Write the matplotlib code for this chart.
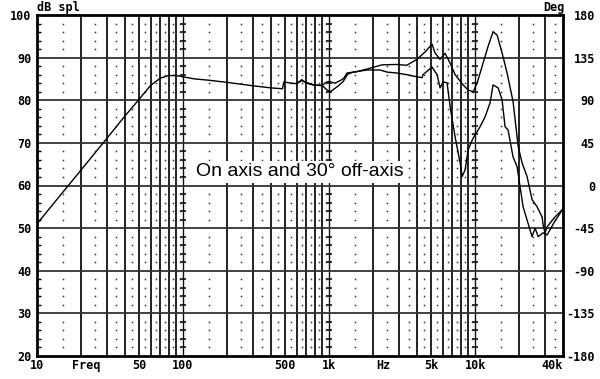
import numpy as np
import matplotlib.pyplot as plt
from matplotlib.ticker import NullLocator, FixedLocator, MultipleLocator

# shared low/mid part (Hz, dB)
f_low = [10, 15, 20, 30, 40, 50, 60, 70, 80, 90, 100, 120, 150, 200, 300,
         400, 480, 490, 550, 600]
db_low = [51.0, 58.4, 63.6, 71.0, 76.3, 80.2, 83.5, 85.2, 85.8, 85.8, 85.5,
          85.0, 84.7, 84.2, 83.4, 82.9, 82.7, 84.3, 84.0, 83.9]

# on axis
f_on = [650, 700, 780, 900, 950, 1000, 1100, 1250, 1330, 1550, 1900, 2300,
        2900, 3400, 4000, 4600, 5070, 5320, 5750, 6230, 6750, 7300, 8280,
        8960, 9690, 10320, 11340, 12270, 13280, 14150, 15310, 16560, 18200,
        19720, 20990, 22700, 24550, 26600, 28780, 29240, 30150, 31130, 35000,
        40000]
db_on = [84.6, 84.2, 83.6, 83.5, 84.2, 84.4, 84.0, 85.0, 86.4, 86.7, 87.5,
         88.3, 88.4, 88.2, 89.6, 91.5, 93.2, 91.1, 89.6, 91.0, 88.7, 86.0,
         83.6, 82.4, 82.0, 84.0, 88.7, 92.6, 96.1, 95.3, 91.1, 86.4, 79.7,
         69.2, 65.3, 62.1, 56.7, 55.0, 52.6, 50.7, 48.9, 50.3, 52.5, 54.5]

# 30 deg off axis
f_off = [650, 700, 780, 900, 970, 1020, 1150, 1250, 1340, 1460, 1820, 2234,
         2500, 2900, 3400, 4000, 4340, 4400, 5070, 5490, 5760, 6030, 6430,
         6750, 7300, 7900, 8150, 8550, 8960, 9690, 10820, 11700, 12670, 13280,
         14380, 15310, 16040, 16830, 18200, 19400, 20330, 21330, 22700, 24550,
         25760, 27040, 29240, 31130, 35000, 40000]
db_off = [84.8, 84.0, 83.6, 83.4, 82.4, 82.0, 83.3, 84.4, 86.1, 86.6, 87.1,
          87.1, 86.6, 86.4, 86.0, 85.5, 85.3, 86.0, 87.8, 86.0, 82.9, 84.3,
          84.1, 78.4, 71.4, 65.3, 62.1, 63.7, 68.4, 71.1, 73.8, 76.1, 79.4,
          83.6, 82.9, 80.1, 73.8, 73.0, 66.7, 64.4, 59.7, 55.0, 51.9, 48.0,
          50.0, 48.0, 48.9, 48.4, 51.5, 54.5]

x_ticks = [10, 21.6, 50, 100, 500, 1000, 2350, 5000, 10000, 40000]
x_labels = ['10', 'Freq', '50', '100', '500', '1k', 'Hz', '5k', '10k', '40k']
db_ticks = [20, 30, 40, 50, 60, 70, 80, 90, 100]
deg_ticks = [-180, -135, -90, -45, 0, 45, 90, 135, 180]

solid_x = [20, 30, 40, 50, 60, 70, 80, 90, 200, 300, 400, 500, 600, 700, 800,
           900, 2000, 3000, 4000, 5000, 6000, 7000, 8000, 9000, 20000, 30000]
decade_x = [100, 1000, 10000]
dot_x = [15, 25, 35, 45, 55, 65, 75, 85, 95, 150, 250, 350, 450, 550, 650,
         750, 850, 950, 1500, 2500, 3500, 4500, 5500, 6500, 7500, 8500, 9500,
         15000, 25000, 35000]
dot_y = [v for v in range(22, 100, 2) if v % 10]

mono = dict(family='DejaVu Sans Mono', weight='bold', size=8.5)

fig = plt.figure(figsize=(6, 3.79), dpi=100)
ax = fig.add_axes([37 / 600, 23 / 379, 526 / 600, 341 / 379])
ax.set_xscale('log')
ax.set_xlim(10, 40000)
ax.set_ylim(20, 100)

for x in solid_x:
    ax.axvline(x, color='#111111', lw=1.3, zorder=1)
for x in decade_x:
    ax.axvline(x, color='#111111', lw=1.0, zorder=1)
    ax.plot([x] * len(dot_y), dot_y, ls='none', marker='_', ms=5,
            mew=1.2, color='#111111', zorder=1)
for y in db_ticks[1:-1]:
    ax.axhline(y, color='#333333', lw=1.3, zorder=1)
gx, gy = np.meshgrid(dot_x, dot_y)
ax.plot(gx.ravel(), gy.ravel(), ls='none', marker='s', ms=1.1,
        color='#333333', mew=0, zorder=1)

ax.plot(f_low + f_on, db_low + db_on, color='black', lw=1.0, zorder=3)
ax.plot(f_off, db_off, color='black', lw=1.0, zorder=3)
ax.plot([f_low[-1], f_off[0]], [db_low[-1], db_off[0]], color='black', lw=1.0,
        zorder=3)

ax.text(630, 63.2, 'On axis and 30\u00b0 off-axis', family='Liberation Sans',
        fontsize=14, ha='center', va='center', zorder=4,
        bbox=dict(facecolor='white', edgecolor='none', pad=2))

ax.xaxis.set_major_locator(FixedLocator(x_ticks))
ax.xaxis.set_minor_locator(NullLocator())
ax.set_xticklabels(x_labels, **mono)
ax.get_xticklabels()[-1].set_ha('right')
ax.set_yticks(db_ticks)
ax.set_yticklabels([str(v) for v in db_ticks], **mono)
ax.yaxis.set_minor_locator(MultipleLocator(2))
ax.tick_params(which='major', length=0, pad=2)
ax.tick_params(axis='y', which='major', pad=4)
ax.tick_params(axis='y', which='minor', left=True, right=True,
               direction='in', length=3, width=1)
for s in ax.spines.values():
    s.set_linewidth(2)

ax2 = ax.twinx()
ax2.set_ylim(-180, 180)
ax2.set_yticks(deg_ticks)
ax2.set_yticklabels([str(v) for v in deg_ticks], **mono)
for t in ax2.get_yticklabels():
    t.set_ha('right')
ax2.tick_params(length=0, pad=23)
for s in ax2.spines.values():
    s.set_visible(False)

fig.text(37 / 600, 1 - 7 / 379, 'dB spl', ha='left', va='center', **mono)
fig.text(565 / 600, 1 - 7 / 379, 'Deg', ha='right', va='center', **mono)

fig.savefig('out.png', dpi=100)
